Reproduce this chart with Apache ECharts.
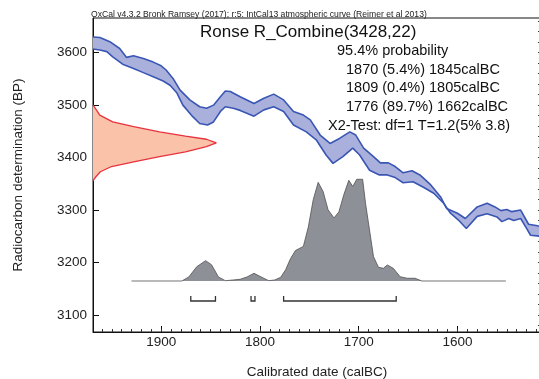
<!DOCTYPE html>
<html>
<head>
<meta charset="utf-8">
<script src="https://cdn.jsdelivr.net/npm/echarts@6/dist/echarts.min.js"></script>
<style>
  html, body { margin: 0; padding: 0; background: #fff; }
  #chart { width: 539px; height: 379px; }
</style>
</head>
<body>
<div id="chart"></div>
<script>
// IntCal13 band edges (calBC -> BP)
const bandUpperYears = [1969, 1962, 1952, 1942, 1935, 1928, 1918, 1908, 1900, 1895, 1888, 1881, 1871, 1861, 1854, 1847, 1840, 1835, 1830, 1820, 1806, 1796, 1786, 1776, 1766, 1756, 1749, 1739, 1729, 1719, 1709, 1703, 1695, 1685, 1678, 1670, 1663, 1655, 1646, 1638, 1627, 1617, 1611, 1600, 1592, 1580, 1570, 1562, 1556, 1550, 1545, 1536, 1528, 1519, 1515]
const bandUpperBP = [3630, 3629, 3621, 3608, 3591, 3594, 3589, 3582, 3575, 3567, 3551, 3529, 3510, 3497, 3494, 3500, 3516, 3527, 3526, 3516, 3503, 3513, 3521, 3510, 3488, 3481, 3472, 3443, 3427, 3437, 3449, 3443, 3418, 3402, 3390, 3390, 3383, 3371, 3375, 3367, 3348, 3325, 3303, 3294, 3284, 3306, 3313, 3306, 3299, 3301, 3297, 3300, 3273, 3270, 3268]
const bandLowerYears = [1969, 1962, 1955, 1949, 1939, 1928, 1918, 1908, 1898, 1891, 1884, 1878, 1868, 1861, 1853, 1847, 1840, 1835, 1827, 1820, 1806, 1796, 1786, 1776, 1766, 1753, 1743, 1733, 1726, 1716, 1706, 1699, 1689, 1679, 1671, 1663, 1655, 1645, 1634, 1624, 1614, 1607, 1599, 1591, 1580, 1570, 1560, 1555, 1548, 1543, 1536, 1530, 1526, 1515]
const bandLowerBP = [3607, 3605, 3602, 3592, 3578, 3570, 3562, 3554, 3546, 3538, 3523, 3500, 3478, 3465, 3462, 3468, 3488, 3497, 3494, 3490, 3479, 3491, 3497, 3488, 3462, 3449, 3434, 3405, 3389, 3402, 3418, 3405, 3376, 3367, 3367, 3362, 3352, 3354, 3343, 3332, 3313, 3294, 3281, 3265, 3288, 3293, 3287, 3278, 3284, 3280, 3284, 3265, 3252, 3250]

// measurement 3428±22 BP, relative density drawn against the y axis
const measBP = [3500, 3490, 3481, 3468, 3459, 3449, 3441, 3435, 3428, 3421, 3411, 3402, 3392, 3383, 3373, 3364, 3356]
const measDensity = [0, 0.03, 0.055, 0.16, 0.33, 0.54, 0.75, 0.92, 1.0, 0.92, 0.75, 0.54, 0.33, 0.15, 0.06, 0.025, 0]

// calibrated probability (relative)
const calYears = [1930, 1879, 1872, 1864, 1855, 1849, 1842, 1835, 1827, 1820, 1813, 1806, 1798, 1791, 1785, 1779, 1774, 1769, 1764, 1756, 1751, 1746, 1741, 1736, 1731, 1725, 1720, 1715, 1710, 1706, 1702, 1696, 1693, 1689, 1685, 1680, 1675, 1671, 1665, 1658, 1651, 1643, 1636, 1551]
const calProb = [0, 0, 0.04, 0.14, 0.20, 0.16, 0.04, 0.003, 0.01, 0.017, 0.04, 0.076, 0.036, 0.003, 0.01, 0.036, 0.11, 0.22, 0.30, 0.34, 0.53, 0.80, 0.97, 0.88, 0.70, 0.62, 0.68, 0.85, 0.99, 0.93, 1.0, 1.0, 0.76, 0.50, 0.24, 0.135, 0.125, 0.157, 0.125, 0.042, 0.027, 0.027, 0, 0]

// 95.4% ranges
const rangeFrom = [1870, 1809, 1776]
const rangeTo = [1845, 1805, 1662]

const xTickValues = [1900, 1800, 1700, 1600]
const yTickValues = [3100, 3200, 3300, 3400, 3500, 3600]

const headerText = 'OxCal v4.3.2 Bronk Ramsey (2017); r:5: IntCal13 atmospheric curve (Reimer et al 2013)'
const titleText = 'Ronse R_Combine(3428,22)'
const infoLines = [
  '95.4% probability',
  '1870 (5.4%) 1845calBC',
  '1809 (0.4%) 1805calBC',
  '1776 (89.7%) 1662calBC',
  'X2-Test: df=1 T=1.2(5% 3.8)'
]

const FONT = '"Liberation Sans", Arial, sans-serif'
const X_MIN = 1515.4, X_MAX = 1969
const Y_MIN = 3067.6, Y_MAX = 3666.1

const xMinor = []
for (let v = 1520; v <= 1960; v += 10) xMinor.push(v)
const yMinor = []
for (let v = 3080; v <= 3660; v += 20) yMinor.push(v)

const chart = echarts.init(document.getElementById('chart'))

const infoX = [337, 346, 346, 346, 328]
const infoY = [51, 69.5, 88.3, 107, 126]

chart.setOption({
  animation: false,
  backgroundColor: '#fff',
  grid: {
    left: 93, top: 18, right: -2, bottom: 47,
    outerBoundsMode: 'none',
    containLabel: false,
    show: true, borderColor: '#111', borderWidth: 1
  },
  xAxis: [{
    type: 'value', min: X_MIN, max: X_MAX, inverse: true,
    position: 'bottom',
    name: 'Calibrated date (calBC)',
    nameLocation: 'middle', nameGap: 33,
    nameTextStyle: { fontFamily: FONT, fontSize: 13.5, color: '#222' },
    axisLine: { show: true, onZero: false, lineStyle: { color: '#111', width: 1 } },
    axisTick: { show: true, inside: true, length: 6, customValues: xTickValues, lineStyle: { color: '#111' } },
    axisLabel: { customValues: xTickValues, formatter: v => String(v), fontFamily: FONT, fontSize: 13.5, color: '#222', margin: 3 },
    splitLine: { show: false }
  }, {
    type: 'value', min: X_MIN, max: X_MAX, inverse: true,
    position: 'bottom',
    axisLine: { show: false, onZero: false },
    axisTick: { show: true, inside: true, length: 3, customValues: xMinor, lineStyle: { color: '#333' } },
    axisLabel: { show: false },
    splitLine: { show: false }
  }, {
    // relative density for the measurement curve
    type: 'value', min: 0, max: 3.633, show: false,
    axisLine: { onZero: false }
  }],
  yAxis: [{
    type: 'value', min: Y_MIN, max: Y_MAX,
    name: 'Radiocarbon determination (BP)',
    nameLocation: 'middle', nameGap: 68,
    nameTextStyle: { fontFamily: FONT, fontSize: 13.5, color: '#222' },
    axisLine: { show: true, onZero: false, lineStyle: { color: '#111', width: 1 } },
    axisTick: { show: true, inside: true, length: 6, customValues: yTickValues, lineStyle: { color: '#111' } },
    axisLabel: { customValues: yTickValues, formatter: v => String(v), fontFamily: FONT, fontSize: 13.5, color: '#222', margin: 6 },
    splitLine: { show: false }
  }, {
    type: 'value', min: Y_MIN, max: Y_MAX,
    axisLine: { show: false, onZero: false },
    axisTick: { show: true, inside: true, length: 3, customValues: yMinor, lineStyle: { color: '#333' } },
    axisLabel: { show: false },
    splitLine: { show: false }
  }, {
    // relative probability for the calibrated distribution
    type: 'value', min: -0.5015, max: 2.586, show: false,
    axisLine: { onZero: false }
  }],
  graphic: [
    { type: 'text', x: 91, y: 14.5, style: { text: headerText, font: '8.6px ' + FONT, fill: '#222', verticalAlign: 'middle' } },
    { type: 'text', x: 200, y: 32, style: { text: titleText, font: '17px ' + FONT, fill: '#111', verticalAlign: 'middle' } }
  ].concat(infoLines.map((t, i) => ({
    type: 'text', x: infoX[i], y: infoY[i], z: 100,
    style: { text: t, font: '14.5px ' + FONT, fill: '#111', verticalAlign: 'middle' }
  }))),
  series: [
    {
      // IntCal13 band fill
      type: 'custom',
      xAxisIndex: 0, yAxisIndex: 0,
      data: [[bandUpperYears[0], bandUpperBP[0]]],
      renderItem: (params, api) => {
        const pts = []
        bandUpperYears.forEach((y, i) => pts.push(api.coord([y, bandUpperBP[i]])))
        for (let i = bandLowerYears.length - 1; i >= 0; i--) pts.push(api.coord([bandLowerYears[i], bandLowerBP[i]]))
        return { type: 'polygon', shape: { points: pts }, style: { fill: '#aab0dc' } }
      },
      silent: true, z: 2
    },
    {
      type: 'line', xAxisIndex: 0, yAxisIndex: 0,
      data: bandUpperYears.map((y, i) => [y, bandUpperBP[i]]),
      symbol: 'none', lineStyle: { color: '#3a56b4', width: 1.6 }, z: 3
    },
    {
      type: 'line', xAxisIndex: 0, yAxisIndex: 0,
      data: bandLowerYears.map((y, i) => [y, bandLowerBP[i]]),
      symbol: 'none', lineStyle: { color: '#3a56b4', width: 1.6 }, z: 3
    },
    {
      // measurement distribution fill
      type: 'custom',
      xAxisIndex: 2, yAxisIndex: 0,
      data: [[0, measBP[0]]],
      renderItem: (params, api) => {
        const pts = measBP.map((b, i) => api.coord([measDensity[i], b]))
        return { type: 'polygon', shape: { points: pts }, style: { fill: '#f9c2a9' } }
      },
      silent: true, z: 2
    },
    {
      type: 'line', xAxisIndex: 2, yAxisIndex: 0,
      data: measBP.map((b, i) => [measDensity[i], b]),
      symbol: 'none', lineStyle: { color: '#e8323c', width: 1.3 }, z: 3
    },
    {
      // calibrated distribution
      type: 'line', xAxisIndex: 0, yAxisIndex: 2,
      data: calYears.map((y, i) => [y, calProb[i]]),
      symbol: 'none',
      lineStyle: { color: '#505050', width: 0.8 },
      areaStyle: { color: '#8d9096', opacity: 1 },
      z: 3
    },
    {
      // range brackets under the distribution
      type: 'custom',
      xAxisIndex: 0, yAxisIndex: 2,
      data: rangeFrom.map((f, i) => [f, rangeTo[i]]),
      renderItem: (params, api) => {
        const a = api.coord([api.value(0), 0])
        const b = api.coord([api.value(1), 0])
        const y = a[1] + 20
        return {
          type: 'polyline',
          shape: { points: [[a[0], y - 5], [a[0], y], [b[0], y], [b[0], y - 5]] },
          style: { stroke: '#333', lineWidth: 1.3, fill: null }
        }
      },
      silent: true, z: 3
    }
  ]
})
</script>
</body>
</html>
